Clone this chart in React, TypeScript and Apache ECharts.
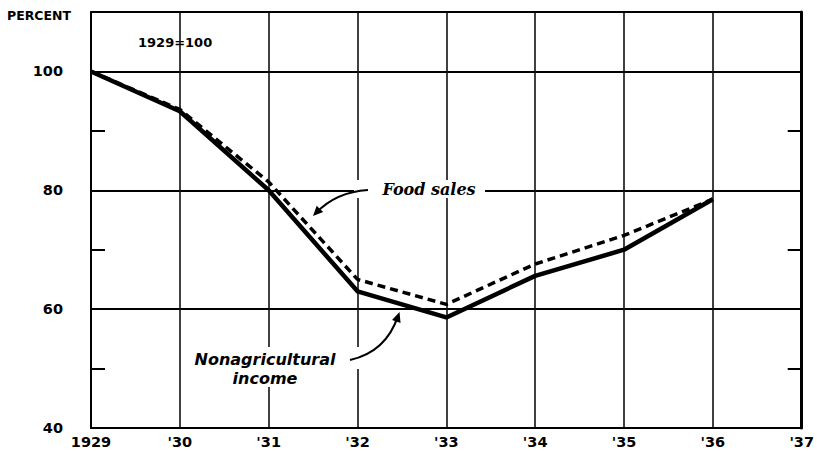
import React, { useEffect, useRef } from "react";
import * as echarts from "echarts";

const years = [1929, 1930, 1931, 1932, 1933, 1934, 1935, 1936];
const nonagriculturalIncome = [100, 93.3, 80, 63, 58.6, 65.6, 70, 78.5];
const foodSales = [100, 93.6, 81.4, 65, 60.8, 67.6, 72.4, 78.5];
const xTickYears = [1929, 1930, 1931, 1932, 1933, 1934, 1935, 1936, 1937];
const yLabels = [40, 60, 80, 100];

const FONT = '"DejaVu Sans", "Liberation Sans", sans-serif';

function arrowHead(tip: number[], from: number[], len: number, half: number) {
  const dx = tip[0] - from[0];
  const dy = tip[1] - from[1];
  const d = Math.sqrt(dx * dx + dy * dy);
  const ux = dx / d;
  const uy = dy / d;
  const bx = tip[0] - ux * len;
  const by = tip[1] - uy * len;
  return [
    [tip[0], tip[1]],
    [bx - uy * half, by + ux * half],
    [bx + uy * half, by - ux * half],
  ];
}

export default function App() {
  const ref = useRef<HTMLDivElement>(null);
  useEffect(() => {
    if (!ref.current) return;
    const chart = echarts.init(ref.current, null, { renderer: "svg" });
    const fsStart = [368, 190];
    const fsCtrl = [336, 192];
    const fsEnd = [316, 213];
    const niStart = [350, 360];
    const niCtrl = [386, 352];
    const niEnd = [398, 316];
    const tickAxis = (pos: string) => ({
      type: "value",
      position: pos,
      min: 40,
      max: 110,
      interval: 10,
      axisLine: { show: false },
      axisTick: { show: true, inside: true, length: 14, lineStyle: { color: "#000", width: 2 } },
      axisLabel: { show: false },
      splitLine: { show: false },
    });
    chart.setOption({
      animation: false,
      backgroundColor: "#fff",
      grid: { left: 91, right: 11, top: 12, bottom: 23, containLabel: false },
      xAxis: [
        {
          type: "value",
          min: 1929,
          max: 1937,
          interval: 1,
          axisLine: { show: true, lineStyle: { color: "#000", width: 2 } },
          axisTick: { show: false },
          axisLabel: {
            margin: 6,
            color: "#000",
            fontFamily: FONT,
            fontWeight: "bold",
            fontSize: 14.5,
            formatter: (v: number) =>
              xTickYears.indexOf(v) < 0 ? "" : v === 1929 ? String(v) : "'" + String(v).slice(2),
          },
          splitLine: { show: true, lineStyle: { color: "#111", width: 1.6 } },
        },
        {
          type: "value",
          position: "top",
          min: 1929,
          max: 1937,
          axisLine: { show: true, lineStyle: { color: "#000", width: 1.5 } },
          axisTick: { show: false },
          axisLabel: { show: false },
          splitLine: { show: false },
        },
      ],
      yAxis: [
        {
          type: "value",
          position: "left",
          min: 40,
          max: 110,
          interval: 20,
          axisLine: { show: true, lineStyle: { color: "#000", width: 2 } },
          axisTick: { show: false },
          axisLabel: {
            margin: 28,
            color: "#000",
            fontFamily: FONT,
            fontWeight: "bold",
            fontSize: 14.5,
            formatter: (v: number) => (yLabels.indexOf(v) < 0 ? "" : String(v)),
          },
          splitLine: { show: true, lineStyle: { color: "#000", width: 2 } },
        },
        tickAxis("left"),
        {
          ...tickAxis("right"),
          axisLine: { show: true, lineStyle: { color: "#000", width: 3 } },
        },
      ],
      series: [
        {
          type: "line",
          name: "Nonagricultural income",
          data: years.map((y, i) => [y, nonagriculturalIncome[i]]),
          showSymbol: false,
          lineStyle: { color: "#000", width: 4.5, join: "round" },
          z: 3,
        },
        {
          type: "line",
          name: "Food sales",
          data: years.map((y, i) => [y, foodSales[i]]),
          showSymbol: false,
          lineStyle: { color: "#000", width: 3.5, type: [8, 5] },
          z: 4,
        },
      ],
      graphic: [
        {
          type: "text",
          left: 7,
          top: 9,
          style: { text: "PERCENT", font: `bold 12.5px ${FONT}`, fill: "#000" },
        },
        {
          type: "text",
          left: 138,
          top: 36,
          style: { text: "1929=100", font: `bold 13px ${FONT}`, fill: "#000" },
        },
        {
          type: "rect",
          shape: { x: 354, y: 180, width: 131, height: 18 },
          style: { fill: "#fff" },
          z: 10,
        },
        {
          type: "text",
          x: 429,
          y: 189,
          style: {
            text: "Food sales",
            align: "center",
            verticalAlign: "middle",
            font: `italic bold 16px "DejaVu Serif", serif`,
            fill: "#000",
          },
          z: 11,
        },
        {
          type: "bezierCurve",
          shape: { x1: fsStart[0], y1: fsStart[1], x2: fsEnd[0], y2: fsEnd[1], cpx1: fsCtrl[0], cpy1: fsCtrl[1] },
          style: { stroke: "#000", lineWidth: 2.2, fill: null },
          z: 11,
        },
        {
          type: "polygon",
          shape: { points: arrowHead([fsEnd[0] - 3, fsEnd[1] + 3], fsCtrl, 10, 4.5) },
          style: { fill: "#000" },
          z: 11,
        },
        {
          type: "rect",
          shape: { x: 186, y: 347, width: 176, height: 22 },
          style: { fill: "#fff" },
          z: 10,
        },
        {
          type: "rect",
          shape: { x: 226, y: 369, width: 80, height: 18 },
          style: { fill: "#fff" },
          z: 10,
        },
        {
          type: "text",
          x: 265,
          y: 359,
          style: {
            text: "Nonagricultural",
            align: "center",
            verticalAlign: "middle",
            font: `italic bold 16px ${FONT}`,
            fill: "#000",
          },
          z: 11,
        },
        {
          type: "text",
          x: 265,
          y: 378,
          style: {
            text: "income",
            align: "center",
            verticalAlign: "middle",
            font: `italic bold 16px ${FONT}`,
            fill: "#000",
          },
          z: 11,
        },
        {
          type: "bezierCurve",
          shape: { x1: niStart[0], y1: niStart[1], x2: niEnd[0], y2: niEnd[1], cpx1: niCtrl[0], cpy1: niCtrl[1] },
          style: { stroke: "#000", lineWidth: 2.2, fill: null },
          z: 11,
        },
        {
          type: "polygon",
          shape: { points: arrowHead([niEnd[0] + 1.5, niEnd[1] - 4], niCtrl, 10, 4.5) },
          style: { fill: "#000" },
          z: 11,
        },
      ],
    });
    return () => chart.dispose();
  }, []);
  return (
    <div
      ref={ref}
      style={{ position: "fixed", left: 0, top: 0, width: 817, height: 451, background: "#fff" }}
    />
  );
}
